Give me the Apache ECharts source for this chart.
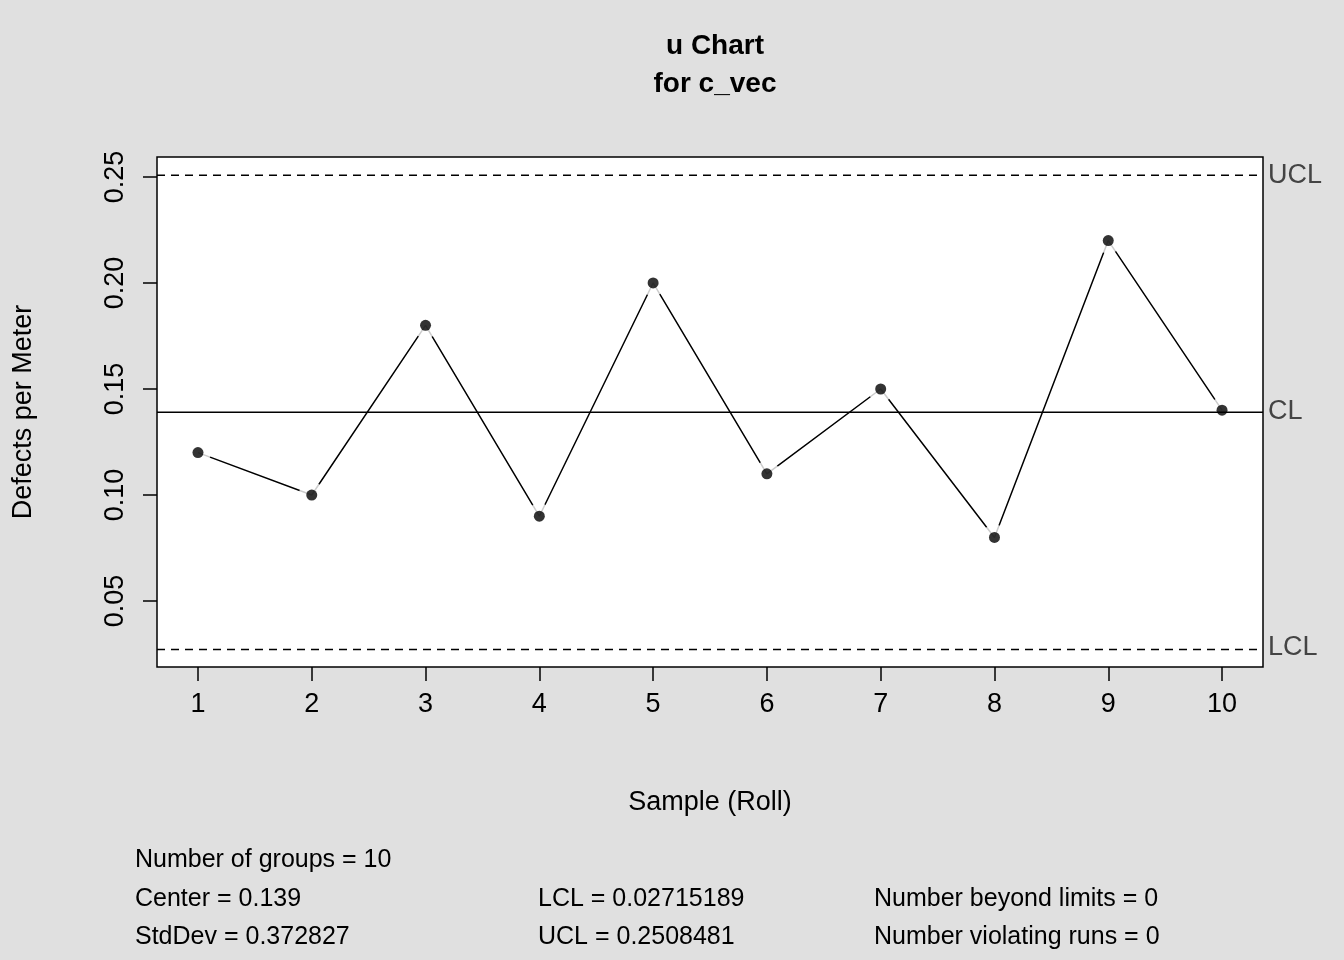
<!DOCTYPE html>
<html>
<head>
<meta charset="utf-8">
<script src="https://cdn.jsdelivr.net/npm/echarts@6/dist/echarts.min.js"></script>
<style>html,body{margin:0;background:#e0e0e0;}#c{width:1344px;height:960px;}</style>
</head>
<body>
<div id="c"></div>
<script>
// data
var samples = [1, 2, 3, 4, 5, 6, 7, 8, 9, 10];
var uValues = [0.12, 0.10, 0.18, 0.09, 0.20, 0.11, 0.15, 0.08, 0.22, 0.14];
var yTicks = [0.05, 0.10, 0.15, 0.20, 0.25];
var center = 0.139;
var lcl = 0.02715189;
var ucl = 0.2508481;

var chart = echarts.init(document.getElementById('c'));
var pts = samples.map(function (s, i) { return [s, uValues[i]]; });
var font = 'Liberation Sans, Arial, sans-serif';

function hline(v, dashed) {
  return {
    type: 'line', data: [[0.64, v], [10.36, v]], symbol: 'none', z: 6,
    lineStyle: { color: '#000', width: 1.5, type: dashed ? [8, 6] : 'solid' },
    silent: true
  };
}

var option = {
  backgroundColor: '#e0e0e0',
  animation: false,
  title: {
    text: 'u Chart\nfor c_vec', left: 710, top: 22, textAlign: 'center',
    textStyle: { fontFamily: font, fontSize: 28, fontWeight: 'bold', color: '#000', lineHeight: 38 }
  },
  grid: { left: 157, top: 157, width: 1106, height: 510, show: true, backgroundColor: '#fff', borderColor: '#000', borderWidth: 1.5 },
  xAxis: {
    type: 'value', min: 0.64, max: 10.36,
    name: 'Sample (Roll)', nameLocation: 'middle', nameGap: 122,
    nameTextStyle: { fontFamily: font, fontSize: 27, color: '#000' },
    axisLine: { show: false }, splitLine: { show: false },
    axisTick: { show: true, length: 14, customValues: samples, lineStyle: { color: '#000', width: 1.5 } },
    axisLabel: { customValues: samples, margin: 24, fontFamily: font, fontSize: 27, color: '#000' }
  },
  yAxis: {
    type: 'value', min: 0.0189, max: 0.2594,
    name: 'Defects per Meter', nameLocation: 'middle', nameGap: 120,
    nameTextStyle: { fontFamily: font, fontSize: 27, color: '#000' },
    axisLine: { show: false }, splitLine: { show: false },
    axisTick: { show: true, length: 14, customValues: yTicks, lineStyle: { color: '#000', width: 1.5 } },
    axisLabel: {
      customValues: yTicks, rotate: 90, margin: 28, fontFamily: font, fontSize: 27, color: '#000',
      formatter: function (v) { return v.toFixed(2); }
    }
  },
  series: [
    { type: 'line', data: pts, symbol: 'none', z: 2, lineStyle: { color: '#000', width: 1.5 } },
    { type: 'scatter', data: pts, symbolSize: 26, z: 3, itemStyle: { color: '#fff' }, silent: true },
    hline(center, false), hline(ucl, true), hline(lcl, true),
    { type: 'scatter', data: pts, symbolSize: 11, z: 7, itemStyle: { color: '#000' } }
  ],
  graphic: [
    { type: 'text', left: 1268, top: 162, style: { text: 'UCL', fontFamily: font, fontSize: 27, fill: '#444' } },
    { type: 'text', left: 1268, top: 398, style: { text: 'CL', fontFamily: font, fontSize: 27, fill: '#444' } },
    { type: 'text', left: 1268, top: 634, style: { text: 'LCL', fontFamily: font, fontSize: 27, fill: '#444' } },
    { type: 'text', left: 135, top: 848, style: { text: 'Number of groups = 10', fontFamily: font, fontSize: 25, fill: '#000' } },
    { type: 'text', left: 135, top: 887, style: { text: 'Center = 0.139', fontFamily: font, fontSize: 25, fill: '#000' } },
    { type: 'text', left: 135, top: 925, style: { text: 'StdDev = 0.372827', fontFamily: font, fontSize: 25, fill: '#000' } },
    { type: 'text', left: 538, top: 887, style: { text: 'LCL = 0.02715189', fontFamily: font, fontSize: 25, fill: '#000' } },
    { type: 'text', left: 538, top: 925, style: { text: 'UCL = 0.2508481', fontFamily: font, fontSize: 25, fill: '#000' } },
    { type: 'text', left: 874, top: 887, style: { text: 'Number beyond limits = 0', fontFamily: font, fontSize: 25, fill: '#000' } },
    { type: 'text', left: 874, top: 925, style: { text: 'Number violating runs = 0', fontFamily: font, fontSize: 25, fill: '#000' } }
  ]
};
chart.setOption(option);
</script>
</body>
</html>
